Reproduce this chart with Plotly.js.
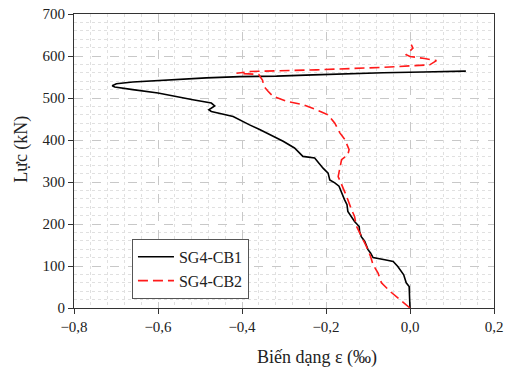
<!DOCTYPE html>
<html>
<head>
<meta charset="utf-8">
<script src="https://cdn.plot.ly/plotly-3.0.1.min.js"></script>
<style>html,body{margin:0;padding:0;background:#fff;}#chart{width:508px;height:371px;}</style>
</head>
<body>
<div id="chart"></div>
<script>
// SG4-CB1 (black solid)
const cb1Strain = [0, -0.002, -0.009, -0.015, -0.029, -0.040, -0.060, -0.088, -0.094, -0.100, -0.108, -0.116, -0.120, -0.121, -0.132, -0.140, -0.148, -0.150, -0.156, -0.169, -0.179, -0.191, -0.195, -0.207, -0.219, -0.227, -0.255, -0.264, -0.275, -0.302, -0.334, -0.358, -0.382, -0.406, -0.421, -0.473, -0.479, -0.465, -0.473, -0.517, -0.556, -0.600, -0.660, -0.703, -0.709, -0.699, -0.660, -0.596, -0.485, -0.405, -0.318, -0.231, -0.144, -0.064, 0.031, 0.102, 0.133];
const cb1Force  = [0, 51, 60, 79, 99, 111, 115, 120, 131, 139, 159, 170, 182, 194, 206, 218, 230, 246, 258, 290, 298, 305, 321, 333, 349, 357, 361, 369, 381, 397, 414, 425, 436, 449, 456, 468, 472, 481, 488, 496, 504, 512, 520, 526, 529, 534, 538, 542, 548, 551, 552, 555, 558, 560, 562, 563, 564];
// SG4-CB2 (red dashed)
const cb2Strain = [0, -0.025, -0.048, -0.068, -0.076, -0.088, -0.094, -0.104, -0.112, -0.120, -0.128, -0.132, -0.140, -0.151, -0.163, -0.171, -0.167, -0.163, -0.148, -0.145, -0.155, -0.167, -0.179, -0.195, -0.223, -0.255, -0.294, -0.326, -0.338, -0.348, -0.351, -0.356, -0.360, -0.413, -0.382, -0.223, -0.064, 0.047, 0.063, 0.035, 0.000, -0.009, -0.005, 0.007, 0.003];
const cb2Force  = [0, 20, 40, 60, 83, 103, 123, 147, 163, 179, 196, 218, 236, 266, 294, 313, 333, 353, 365, 377, 401, 417, 440, 460, 472, 484, 492, 504, 516, 528, 542, 550, 556, 559, 563, 567, 573, 579, 589, 594, 599, 603, 607, 619, 627];

const seriesNames = ['SG4-CB1', 'SG4-CB2'];
const xTitle = 'Biến dạng ε (‰)';
const yTitle = 'Lực (kN)';

const FONT = 'Liberation Serif, Times New Roman, serif';

const traces = [
  {x: cb1Strain, y: cb1Force, name: seriesNames[0], mode: 'lines', type: 'scatter',
   line: {color: '#000000', width: 1.6}},
  {x: cb2Strain, y: cb2Force, name: seriesNames[1], mode: 'lines', type: 'scatter',
   line: {color: '#ff1a1a', width: 1.6, dash: '10px,5px'}}
];

const layout = {
  width: 508, height: 371,
  margin: {l: 74, r: 14, t: 14, b: 63},
  paper_bgcolor: '#ffffff', plot_bgcolor: '#ffffff',
  separators: ', ',
  font: {family: FONT, size: 15, color: '#222'},
  showlegend: true,
  legend: {x: 0.138, y: 0.235, xanchor: 'left', yanchor: 'top',
           bgcolor: '#ffffff', bordercolor: '#555', borderwidth: 1, itemwidth: 36,
           font: {family: FONT, size: 16, color: '#222'}, tracegroupgap: 0},
  xaxis: {
    range: [-0.8, 0.2], dtick: 0.2, tick0: 0, tickformat: '.1f',
    showline: true, linecolor: '#333', linewidth: 1, mirror: true,
    ticks: 'outside', ticklen: 5, tickcolor: '#333',
    showgrid: true, gridcolor: '#c8c8c8', griddash: 'dash', gridwidth: 1,
    zeroline: false,
    minor: {dtick: 0.04, showgrid: true, gridcolor: '#e0e0e0', griddash: 'dot', gridwidth: 1},
    tickfont: {family: FONT, size: 15, color: '#222'}
  },
  yaxis: {
    range: [0, 700], dtick: 100, tick0: 0,
    showline: true, linecolor: '#333', linewidth: 1, mirror: true,
    ticks: 'outside', ticklen: 5, tickcolor: '#333',
    showgrid: true, gridcolor: '#c8c8c8', griddash: 'dash', gridwidth: 1,
    zeroline: false,
    minor: {dtick: 20, showgrid: true, gridcolor: '#e0e0e0', griddash: 'dot', gridwidth: 1},
    tickfont: {family: FONT, size: 15, color: '#222'}
  },
  annotations: [
    {text: xTitle, xref: 'paper', yref: 'paper', x: 0.579, y: -0.167,
     xanchor: 'center', yanchor: 'middle', showarrow: false,
     font: {family: FONT, size: 18, color: '#222'}},
    {text: yTitle, xref: 'paper', yref: 'paper', x: -0.124, y: 0.541,
     xanchor: 'center', yanchor: 'middle', showarrow: false, textangle: -90,
     font: {family: FONT, size: 18, color: '#222'}}
  ]
};

Plotly.newPlot('chart', traces, layout, {displayModeBar: false, staticPlot: true});
</script>
</body>
</html>
